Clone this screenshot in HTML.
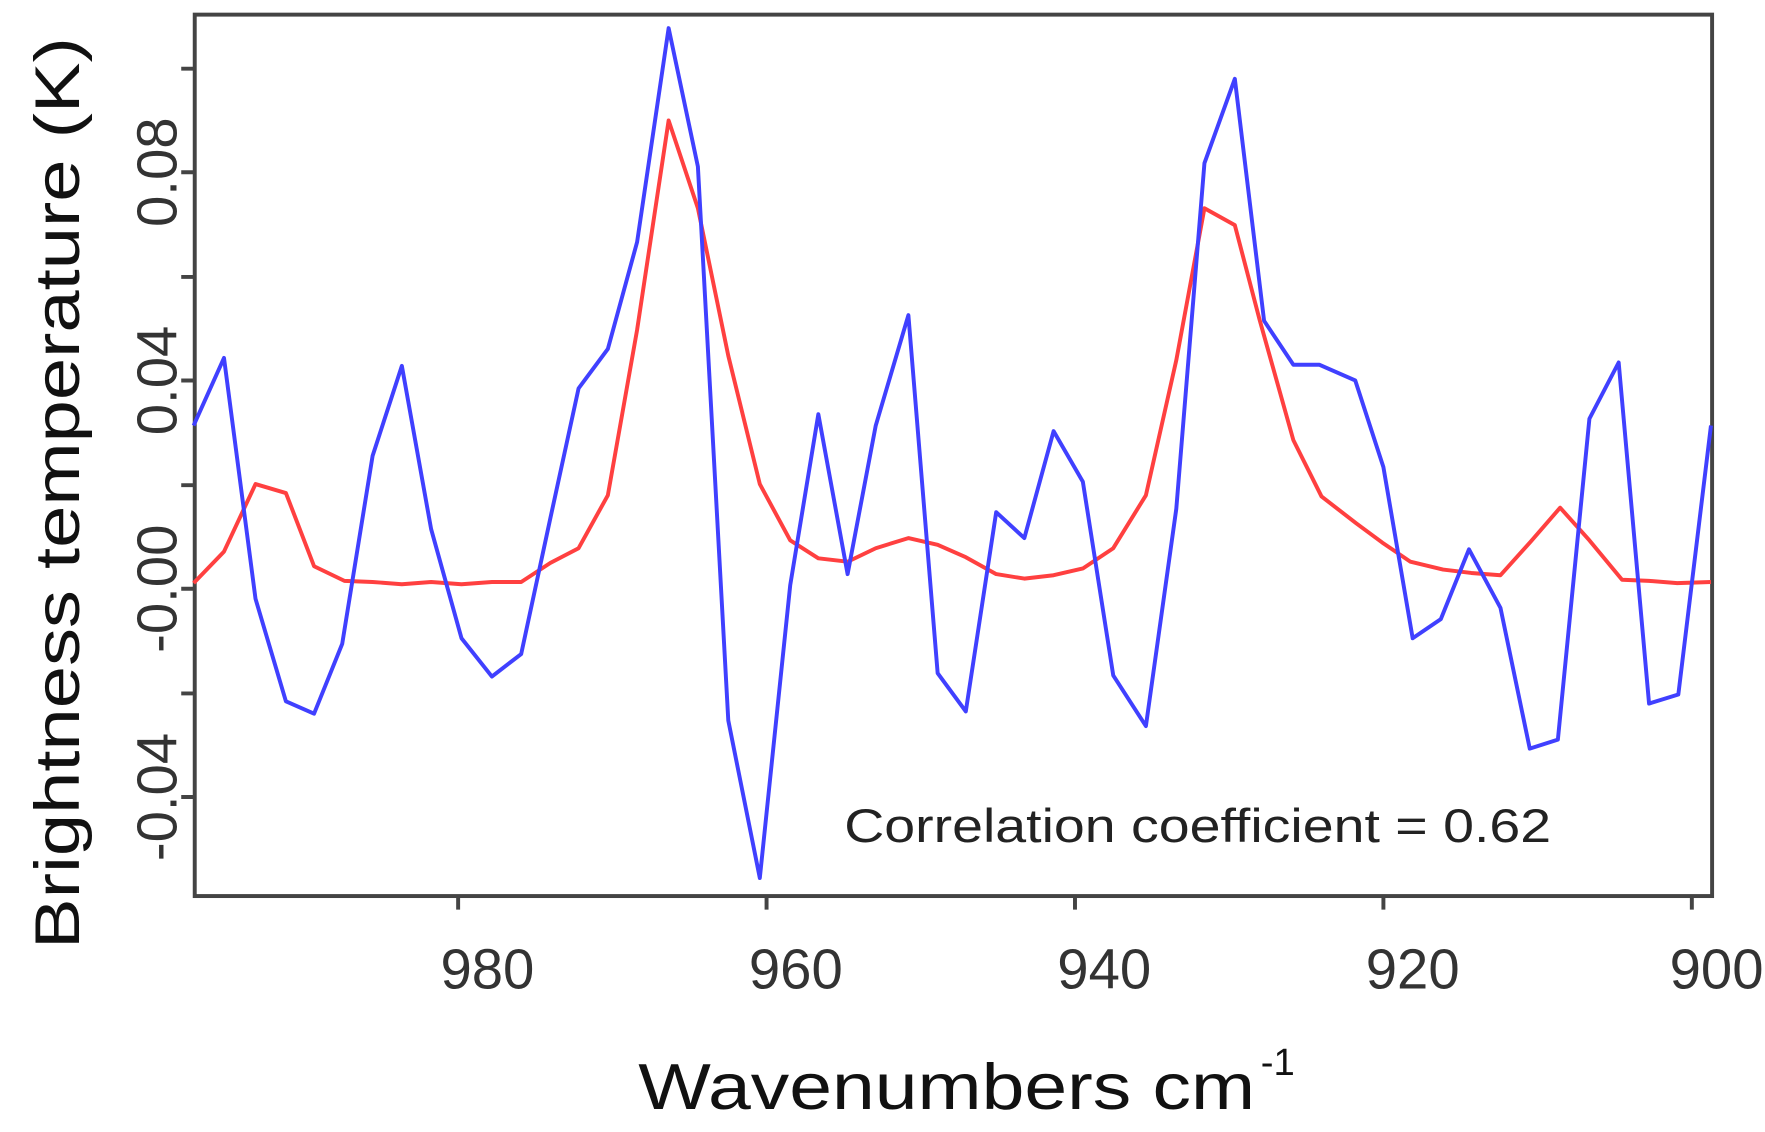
<!DOCTYPE html>
<html><head><meta charset="utf-8"><style>html,body{margin:0;padding:0;background:#fff}svg{display:block}</style></head>
<body>
<svg width="1765" height="1132" viewBox="0 0 1568 1005.6" preserveAspectRatio="none" xmlns="http://www.w3.org/2000/svg" font-family="Liberation Sans, sans-serif">
<rect width="1568" height="1006" fill="#fff"/>
<g stroke="#444" stroke-width="3.5" fill="none">
<rect x="173" y="13" width="1348" height="783"/>
<path d="M161 61H173M161 153H173M161 246H173M161 338H173M161 431H173M161 523H173M161 616H173M161 708H173"/>
<path d="M407 796V808M681 796V808M955 796V808M1229 796V808M1503 796V808"/>
</g>
<g fill="#333" font-size="50" text-anchor="middle">
<text x="433" y="878">980</text><text x="707" y="878">960</text><text x="981" y="878">940</text><text x="1255" y="878">920</text><text x="1525" y="878">900</text>
<text transform="translate(157,153) rotate(-90)">0.08</text>
<text transform="translate(157,338) rotate(-90)">0.04</text>
<text transform="translate(157,523) rotate(-90)">-0.00</text>
<text transform="translate(157,708) rotate(-90)">-0.04</text>
</g>
<text transform="translate(70,438) rotate(-90)" text-anchor="middle" font-size="56" fill="#111" textLength="810" lengthAdjust="spacingAndGlyphs">Brightness temperature (K)</text>
<text x="567" y="985" font-size="58" fill="#111" textLength="548" lengthAdjust="spacingAndGlyphs">Wavenumbers cm</text><text x="1120" y="955" font-size="34" fill="#111">-1</text>
<text x="750" y="748" font-size="42" fill="#222" textLength="628" lengthAdjust="spacingAndGlyphs">Correlation coefficient = 0.62</text>
<polyline fill="none" stroke="#ff4040" stroke-width="3.5" stroke-linejoin="round" points="172,518 199,490 227,430 254,438 279,503 306,516 331,517 357,519 383,517 410,519 437,517 463,517 489,500 514,487 540,440 566,293 594,107 620,185 647,316 675,430 702,480 727,496 753,499 778,487 807,478 833,484 858,495 885,510 910,514 936,511 962,505 989,487 1018,440 1045,320 1070,185 1097,200 1119,284 1149,391 1174,441 1205,465 1228,482 1253,499 1282,506 1307,509 1333,511 1360,481 1386,451 1412,480 1441,515 1465,516 1490,518 1520,517"/>
<polyline fill="none" stroke="#4040ff" stroke-width="3.5" stroke-linejoin="round" points="172,378 199,318 227,532 254,623 279,634 304,572 331,405 357,325 383,470 410,567 437,601 463,581 489,460 514,345 540,310 566,215 594,25 620,148 647,640 675,780 702,520 727,368 753,510 778,378 807,280 833,598 858,632 885,455 910,478 936,383 962,428 989,600 1018,645 1045,452 1070,145 1097,70 1123,285 1149,324 1172,324 1204,338 1229,415 1255,567 1280,550 1305,488 1333,540 1359,665 1384,657 1412,372 1438,322 1465,625 1491,617 1520,378"/>
</svg>
</body></html>
